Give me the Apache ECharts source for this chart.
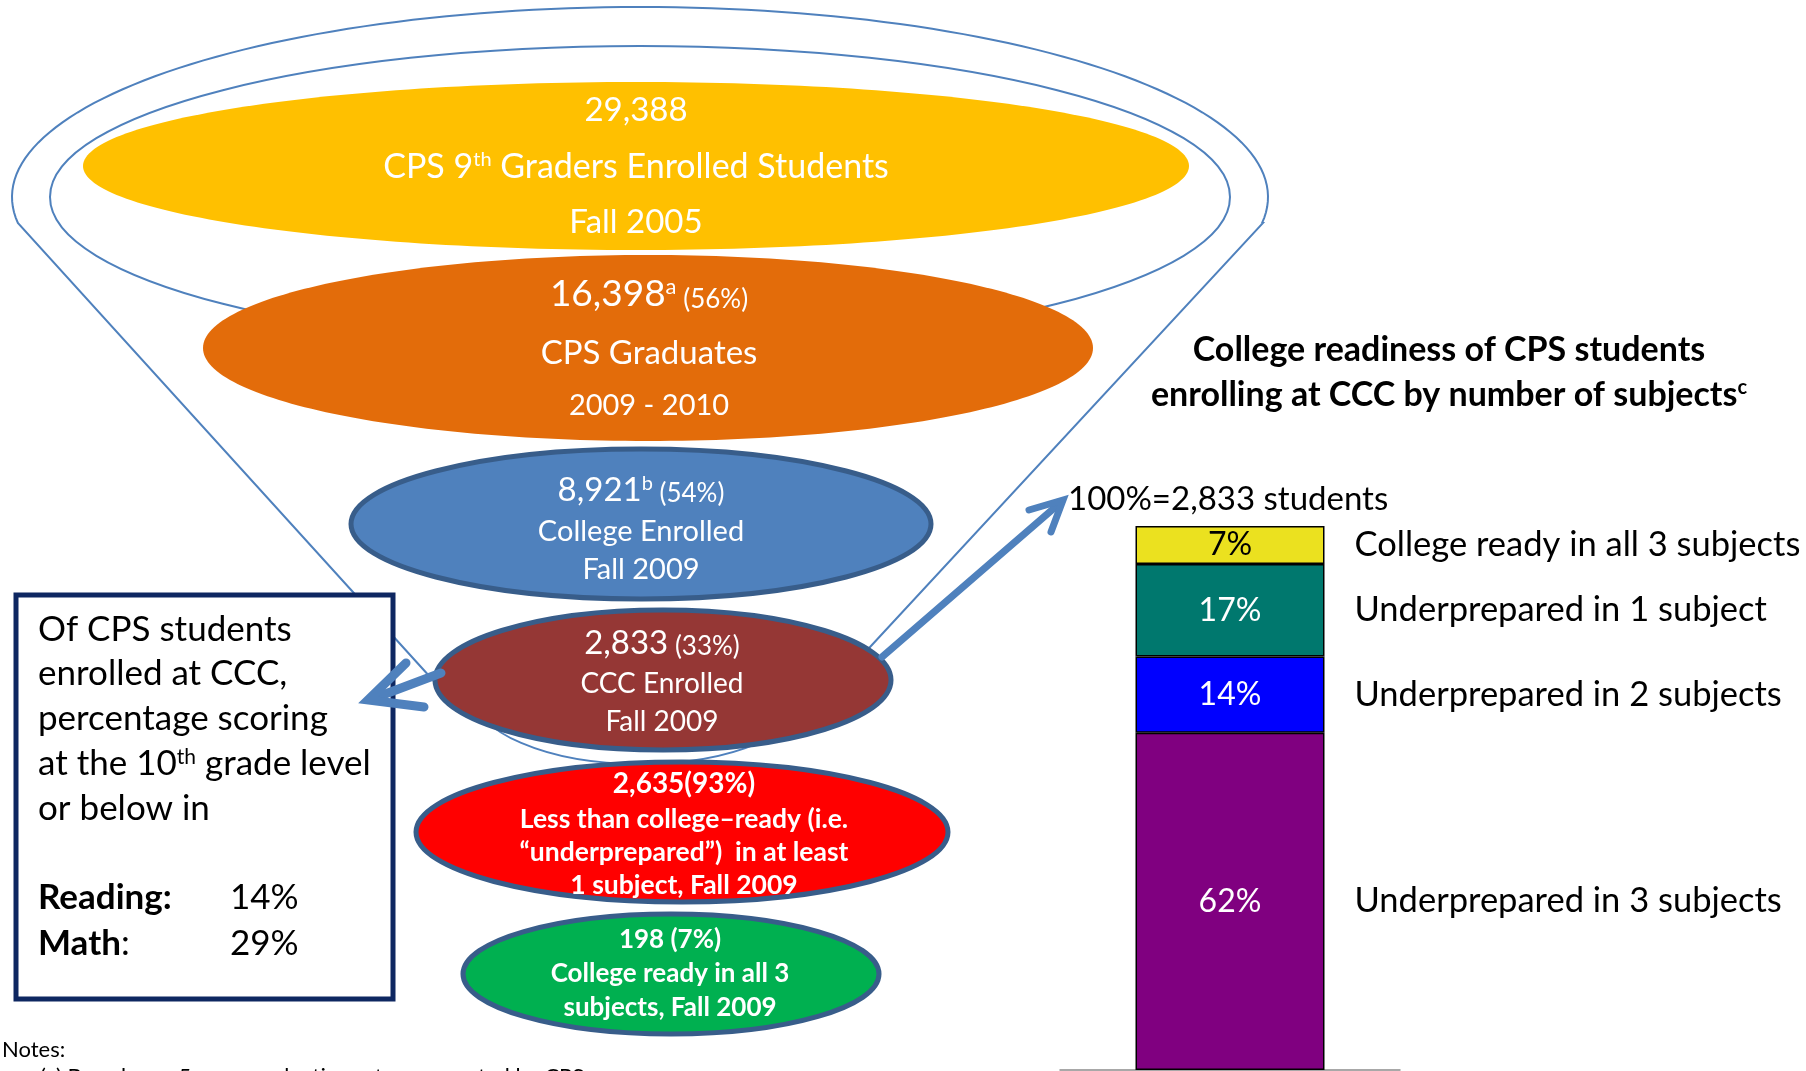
<!DOCTYPE html>
<html>
<head>
<meta charset="utf-8">
<script src="https://cdn.jsdelivr.net/npm/echarts@6/dist/echarts.min.js"></script>
<style>
  html, body { margin: 0; padding: 0; background: #fff; }
  #chart { width: 1806px; height: 1071px; }
</style>
</head>
<body>
<div id="chart"></div>
<script>
// funnel data
const funnelCounts = [29388, 16398, 8921, 2833, 2635, 198];
const funnelShares = [null, 56, 54, 33, 93, 7];
const funnelNotes = ['', 'a', 'b', '', '', ''];
const funnelCaptions = [
  ['CPS 9{sup|th} Graders Enrolled Students', 'Fall 2005'],
  ['CPS Graduates', '2009 - 2010'],
  ['College Enrolled', 'Fall 2009'],
  ['CCC Enrolled', 'Fall 2009'],
  ['Less than college\u2013ready (i.e.', '\u201cunderprepared\u201d)  in at least', '1 subject, Fall 2009'],
  ['College ready in all 3', 'subjects, Fall 2009']
];

// CCC test scores box
const boxLines = ['Of CPS students', 'enrolled at CCC,', 'percentage scoring', 'at the 10{sup|th} grade level', 'or below in'];
const boxSubjects = ['Reading', 'Math'];
const boxShares = [14, 29];

// stacked bar data (bottom to top)
const barCategory = ['CCC enrolled'];
const segmentNames = ['Underprepared in 3 subjects', 'Underprepared in 2 subjects', 'Underprepared in 1 subject', 'College ready in all 3 subjects'];
const segmentShares = [62, 14, 17, 7];

const segmentColors = ['#800080', '#0000FF', '#00786E', '#EBE11F'];
const segmentTextColors = ['#fff', '#fff', '#fff', '#000'];
const FONT = 'Lato';

const fmt = (n) => n.toLocaleString('en-US');

// ellipse layout for each funnel stage
const stageShapes = [
  { cx: 636, cy: 166, rx: 553, ry: 84, fill: '#FFC000', stroke: null },
  { cx: 648, cy: 348, rx: 445, ry: 93, fill: '#E36C0A', stroke: null },
  { cx: 641, cy: 524, rx: 290, ry: 75, fill: '#4F81BD', stroke: '#385D8A' },
  { cx: 663, cy: 680, rx: 228, ry: 70, fill: '#953735', stroke: '#385D8A' },
  { cx: 682, cy: 832, rx: 266, ry: 70, fill: '#FF0000', stroke: '#385D8A' },
  { cx: 671, cy: 974, rx: 208, ry: 60, fill: '#00B050', stroke: '#385D8A' }
];
const stageTextX = [636, 649, 641, 662, 684, 670];
const stageTextY = [
  [110, 167, 222],
  [294, 353, 406],
  [490, 532, 570],
  [643, 684, 722],
  [784, 819, 852, 885],
  [940, 974, 1008]
];
const stageStyle = [
  { num: 33, pct: 33, line: [34, 33], bold: false },
  { num: 37, pct: 26, line: [33, 29], bold: false },
  { num: 33, pct: 26, line: [29, 29], bold: false },
  { num: 33, pct: 26, line: [28, 28], bold: false },
  { num: 28, pct: 28, line: [26.5, 26.5, 26.5], bold: true },
  { num: 26, pct: 26, line: [26, 26], bold: true }
];

function txt(x, y, text, size, opts) {
  opts = opts || {};
  return {
    type: 'text', x: x, y: y, z: 20, silent: true,
    style: {
      text: text,
      fill: opts.color || '#000',
      fontFamily: FONT,
      fontSize: size,
      fontWeight: opts.bold ? 'bold' : 'normal',
      align: opts.align || 'left',
      verticalAlign: 'middle',
      rich: opts.rich || {}
    }
  };
}

function supRich(base, supSize, weight, color) {
  return {
    base: { fontFamily: FONT, fontSize: base, fontWeight: weight, fill: color, verticalAlign: 'bottom' },
    sup: { fontFamily: FONT, fontSize: supSize, fontWeight: weight, fill: color, verticalAlign: 'top' }
  };
}

const elements = [];

// outer funnel outline: ellipse arc over the top, then two sides down to the CCC stage
const outer = { cx: 640, cy: 197, rx: 628, ry: 190 };
const outlinePts = [[451, 700], [18, 223]];
for (let i = 0; i <= 120; i++) {
  const t = Math.PI + 0.137 - (Math.PI + 0.274) * i / 120;
  outlinePts.push([outer.cx + outer.rx * Math.cos(t), outer.cy - outer.ry * Math.sin(t)]);
}
outlinePts.push([1263, 223], [858, 660]);
elements.push({ type: 'polyline', z: 1, silent: true, shape: { points: outlinePts },
  style: { fill: null, stroke: '#4F81BD', lineWidth: 2 } });
// inner rim
elements.push({ type: 'ellipse', z: 2, silent: true, shape: { cx: 640, cy: 197, rx: 590, ry: 151 },
  style: { fill: null, stroke: '#4F81BD', lineWidth: 2 } });
// funnel tip below CCC
elements.push({ type: 'ellipse', z: 6, silent: true, shape: { cx: 640, cy: 692, rx: 168, ry: 72 },
  style: { fill: null, stroke: '#4F81BD', lineWidth: 1.8 } });

stageShapes.forEach((s, i) => {
  elements.push({ type: 'ellipse', z: i === 3 ? 7 : 3 + i, silent: true,
    shape: { cx: s.cx, cy: s.cy, rx: s.rx, ry: s.ry },
    style: { fill: s.fill, stroke: s.stroke || null, lineWidth: s.stroke ? 5 : 0 } });

  const st = stageStyle[i];
  const w = st.bold ? 'bold' : 'normal';
  const rich = {
    num: { fontFamily: FONT, fontSize: st.num, fontWeight: w, fill: '#fff', verticalAlign: 'bottom' },
    sup: { fontFamily: FONT, fontSize: Math.round(st.num * 0.6), fontWeight: w, fill: '#fff', verticalAlign: 'top' },
    pct: { fontFamily: FONT, fontSize: st.pct, fontWeight: w, fill: '#fff', verticalAlign: 'bottom' }
  };
  let head = '{num|' + fmt(funnelCounts[i]) + '}';
  if (funnelNotes[i]) head += '{sup|' + funnelNotes[i] + '}';
  if (funnelShares[i] !== null) head += (i === 4 ? '' : '{pct| }') + '{pct|(' + funnelShares[i] + '%)}';
  elements.push(txt(stageTextX[i], stageTextY[i][0], head, st.num, { color: '#fff', bold: st.bold, align: 'center', rich: rich }));
  funnelCaptions[i].forEach((line, j) => {
    const size = st.line[j];
    elements.push(txt(stageTextX[i], stageTextY[i][j + 1], line, size,
      { color: '#fff', bold: st.bold, align: 'center', rich: supRich(size, Math.round(size * 0.6), w, '#fff') }));
  });
});

// text box on the left
elements.push({ type: 'rect', z: 12, silent: true, shape: { x: 16, y: 595, width: 377, height: 404 },
  style: { fill: '#fff', stroke: '#0E2761', lineWidth: 5 } });
const boxY = [630, 674, 719, 764, 809];
boxLines.forEach((line, j) => {
  elements.push(txt(38, boxY[j], line, 35, { rich: supRich(35, 21, 'normal', '#000') }));
});
const subjY = [898, 944];
boxSubjects.forEach((s, j) => {
  const label = j === 0 ? '{b|' + s + ':}' : '{b|' + s + '}{r|:}';
  elements.push(txt(38, subjY[j], label, 35, { rich: {
    b: { fontFamily: FONT, fontSize: 35, fontWeight: 'bold', fill: '#000' },
    r: { fontFamily: FONT, fontSize: 35, fill: '#000' }
  } }));
  elements.push(txt(230, subjY[j], boxShares[j] + '%', 35));
});

// arrows
const arrowStyle = { fill: null, stroke: '#4F81BD', lineCap: 'round', lineJoin: 'miter' };
elements.push({ type: 'line', z: 14, silent: true, shape: { x1: 441, y1: 673, x2: 372, y2: 699 },
  style: Object.assign({}, arrowStyle, { lineWidth: 9 }) });
elements.push({ type: 'polyline', z: 14, silent: true, shape: { points: [[406, 663], [368, 700], [424, 707]] },
  style: Object.assign({}, arrowStyle, { lineWidth: 9 }) });
elements.push({ type: 'line', z: 14, silent: true, shape: { x1: 882, y1: 657, x2: 1060, y2: 503 },
  style: Object.assign({}, arrowStyle, { lineWidth: 7 }) });
elements.push({ type: 'polyline', z: 14, silent: true, shape: { points: [[1029, 510], [1063, 500], [1051, 532]] },
  style: Object.assign({}, arrowStyle, { lineWidth: 7 }) });

// right panel texts
elements.push(txt(1449, 350, 'College readiness of CPS students', 34, { bold: true, align: 'center' }));
elements.push(txt(1449, 395, 'enrolling at CCC by number of subjects{sup|c}', 34,
  { bold: true, align: 'center', rich: supRich(34, 20, 'bold', '#000') }));
elements.push(txt(1068, 499, '100%=' + fmt(funnelCounts[3]) + ' students', 33));

// notes
elements.push(txt(2, 1050, 'Notes:', 22));
elements.push(txt(40, 1077, '(a) Based on a 5-year graduation rate as reported by CPS', 22));

const series = [];
segmentNames.forEach((name, i) => {
  series.push({
    type: 'bar', name: name, stack: 'share', data: [segmentShares[i]],
    barWidth: 189, barGap: '-100%', silent: true,
    itemStyle: { color: segmentColors[i], borderColor: '#000', borderWidth: 1.5 },
    label: { show: true, position: 'inside', formatter: '{c}%', fontFamily: FONT, fontSize: 32, color: segmentTextColors[i] }
  });
});
segmentNames.forEach((name, i) => {
  series.push({
    type: 'bar', name: name + ' label', stack: 'names', data: [segmentShares[i]],
    barWidth: 189, barGap: '-100%', silent: true, z: 1,
    itemStyle: { color: 'rgba(0,0,0,0)' },
    label: { show: true, position: 'right', distance: 30, formatter: name, fontFamily: FONT, fontSize: 34.5, color: '#000' }
  });
});

const chart = echarts.init(document.getElementById('chart'));
chart.setOption({
  animation: false,
  backgroundColor: '#fff',
  grid: { left: 1060, top: 526, width: 340, height: 544 },
  xAxis: {
    type: 'category', data: barCategory,
    axisLine: { lineStyle: { color: '#8C8C8C', width: 1.5 } },
    axisTick: { show: false }, axisLabel: { show: false }
  },
  yAxis: { type: 'value', min: 0, max: 100, show: false },
  series: series,
  graphic: { elements: elements }
});
</script>
</body>
</html>
